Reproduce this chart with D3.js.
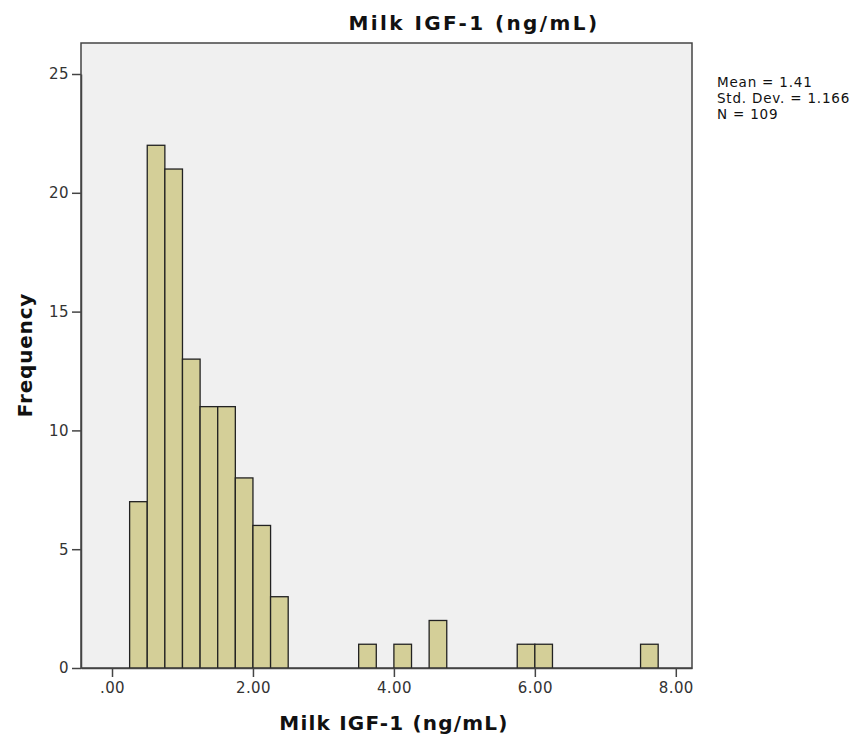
<!DOCTYPE html>
<html>
<head>
<meta charset="utf-8">
<script src="https://cdn.jsdelivr.net/npm/d3@7"></script>
<style>
  body { margin: 0; background: #fff; }
  text { font-family: "DejaVu Sans", sans-serif; }
</style>
</head>
<body>
<script>
'use strict';

// histogram bins (lower edge, upper edge) and counts
const binStart = [0.25, 0.50, 0.75, 1.00, 1.25, 1.50, 1.75, 2.00, 2.25, 3.50, 4.00, 4.50, 5.75, 6.00, 7.50];
const binEnd   = [0.50, 0.75, 1.00, 1.25, 1.50, 1.75, 2.00, 2.25, 2.50, 3.75, 4.25, 4.75, 6.00, 6.25, 7.75];
const counts   = [7, 22, 21, 13, 11, 11, 8, 6, 3, 1, 1, 2, 1, 1, 1];
const xTicks = [0, 2, 4, 6, 8];
const yTicks = [0, 5, 10, 15, 20, 25];
const statsLines = ["Mean = 1.41", "Std. Dev. = 1.166", "N = 109"];

(function() {
  const svg = d3.select('body').append('svg')
    .attr('width', 862)
    .attr('height', 745);

  // plot frame
  const pLeft = 81, pRight = 692, pTop = 43, pBottom = 668;

  const xScale = d3.scaleLinear().domain([-0.44, 8.23]).range([pLeft, pRight]);
  const yScale = d3.scaleLinear().domain([0, 25]).range([pBottom, 74]);

  svg.append('rect')
    .attr('x', pLeft).attr('y', pTop)
    .attr('width', pRight - pLeft).attr('height', pBottom - pTop)
    .attr('fill', '#f0f0f0')
    .attr('stroke', '#444')
    .attr('stroke-width', 1.5);

  // bars
  const bars = binStart.map((s, i) => ({ x0: s, x1: binEnd[i], n: counts[i] }));
  svg.selectAll('.bar')
    .data(bars)
    .enter()
    .append('rect')
    .attr('class', 'bar')
    .attr('x', d => xScale(d.x0))
    .attr('y', d => yScale(d.n))
    .attr('width', d => xScale(d.x1) - xScale(d.x0))
    .attr('height', d => yScale(0) - yScale(d.n))
    .attr('fill', '#d4cf98')
    .attr('stroke', '#222')
    .attr('stroke-width', 1.3);

  // axes
  const xAxis = d3.axisBottom(xScale)
    .tickValues(xTicks)
    .tickSizeInner(9).tickSizeOuter(0)
    .tickPadding(5)
    .tickFormat(d => d === 0 ? '.00' : d3.format('.2f')(d));
  const gx = svg.append('g')
    .attr('transform', `translate(0, ${pBottom})`)
    .call(xAxis);

  const yAxis = d3.axisLeft(yScale)
    .tickValues(yTicks)
    .tickSizeInner(9).tickSizeOuter(0)
    .tickPadding(3);
  const gy = svg.append('g')
    .attr('transform', `translate(${pLeft}, 0)`)
    .call(yAxis);

  [gx, gy].forEach(g => {
    g.select('.domain').attr('stroke', '#444').attr('stroke-width', 1.5);
    g.selectAll('.tick line').attr('stroke', '#444').attr('stroke-width', 1.5);
    g.selectAll('.tick text')
      .attr('fill', '#333')
      .style('font-size', '15px')
      .style('letter-spacing', '0.4px')
      .style('font-family', '"DejaVu Sans", sans-serif');
  });

  // title and labels
  svg.append('text')
    .attr('x', 474).attr('y', 30)
    .attr('text-anchor', 'middle')
    .style('font-size', '20px')
    .style('letter-spacing', '2.4px')
    .style('font-weight', 'bold')
    .attr('fill', '#111')
    .text('Milk IGF-1 (ng/mL)');

  svg.append('text')
    .attr('x', 394).attr('y', 730)
    .attr('text-anchor', 'middle')
    .style('font-size', '20px')
    .style('letter-spacing', '1.2px')
    .style('font-weight', 'bold')
    .attr('fill', '#111')
    .text('Milk IGF-1 (ng/mL)');

  svg.append('text')
    .attr('transform', 'translate(32, 355) rotate(-90)')
    .attr('text-anchor', 'middle')
    .style('font-size', '20px')
    .style('letter-spacing', '0.8px')
    .style('font-weight', 'bold')
    .attr('fill', '#111')
    .text('Frequency');

  // stats box
  svg.selectAll('.stat')
    .data(statsLines)
    .enter()
    .append('text')
    .attr('class', 'stat')
    .attr('x', 717)
    .attr('y', (d, i) => 87 + i * 16)
    .style('font-size', '13.5px')
    .style('letter-spacing', '0.8px')
    .attr('fill', '#111')
    .text(d => d);
})();
</script>
</body>
</html>
